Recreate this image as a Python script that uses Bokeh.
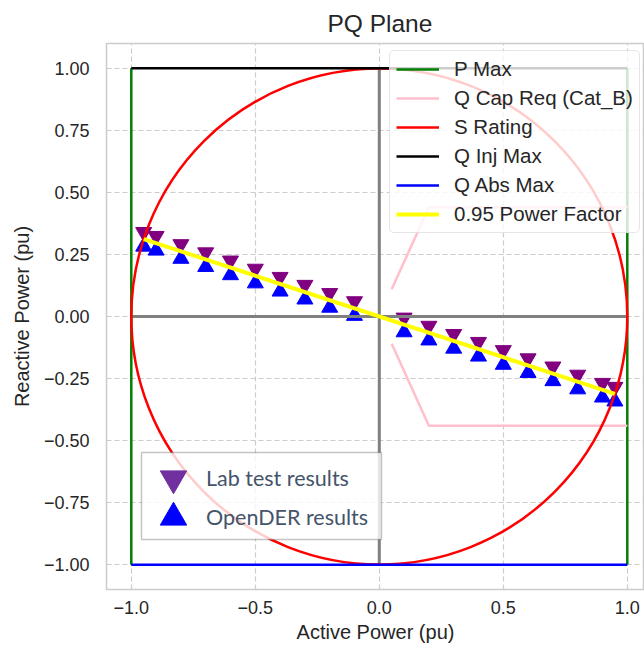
from bokeh.plotting import figure
from bokeh.models import Legend, LegendItem, FixedTicker, Range1d, BoxAnnotation
from bokeh.embed import file_html
from bokeh.resources import INLINE

# ---------------- data ----------------
p_test = [-0.95, -0.9, -0.8, -0.7, -0.6, -0.5, -0.4, -0.3, -0.2, -0.1,
          0.1, 0.2, 0.3, 0.4, 0.5, 0.6, 0.7, 0.8, 0.9, 0.95]
q_lab = [0.340, 0.324, 0.291, 0.258, 0.225, 0.192, 0.159, 0.127, 0.094, 0.061,
         -0.005, -0.038, -0.071, -0.103, -0.136, -0.169, -0.202, -0.235, -0.268, -0.284]
q_opender = [0.282, 0.266, 0.233, 0.200, 0.167, 0.134, 0.101, 0.069, 0.036, 0.003,
             -0.063, -0.096, -0.129, -0.161, -0.194, -0.227, -0.260, -0.293, -0.326, -0.342]
pf_p = [-0.95, 0.95]
pf_q = [0.312, -0.312]
p_max = 1.0
q_inj_max = 1.0
q_abs_max = -1.0
s_rating = 1.0
qcap_p = [0.05, 0.2, 1.0]
qcap_q_up = [0.11, 0.44, 0.44]
qcap_q_dn = [-0.11, -0.44, -0.44]
x_ticks = [-1.0, -0.5, 0.0, 0.5, 1.0]
x_tick_labels = ["\u22121.0", "\u22120.5", "0.0", "0.5", "1.0"]
y_ticks = [-1.0, -0.75, -0.5, -0.25, 0.0, 0.25, 0.5, 0.75, 1.0]
y_tick_labels = ["\u22121.00", "\u22120.75", "\u22120.50", "\u22120.25", "0.00",
                 "0.25", "0.50", "0.75", "1.00"]

FONT = "Liberation Sans"
TXT = "#262626"
NAN = float("nan")

p = figure(frame_width=538, frame_height=546,
           x_range=Range1d(-1.1, 1.0694), y_range=Range1d(-1.1, 1.1),
           output_backend="svg", toolbar_location=None,
           min_border_left=106, min_border_right=0, min_border_top=42,
           min_border_bottom=52)
p.background_fill_color = "white"
p.border_fill_color = "white"
p.outline_line_color = "#cccccc"
p.outline_line_width = 1.5

p.title.text = "PQ Plane"
p.title.align = "left"
p.title.text_font = FONT
p.title.text_font_size = "24.5px"
p.title.text_font_style = "normal"
p.title.text_color = TXT
p.title.offset = 221
p.title.standoff = 14

for ax in (p.xaxis[0], p.yaxis[0]):
    ax.axis_line_color = None
    ax.major_tick_line_color = None
    ax.minor_tick_line_color = None
    ax.major_tick_out = 0
    ax.major_tick_in = 0
    ax.major_label_text_font = FONT
    ax.major_label_text_font_size = "18px"
    ax.major_label_text_color = TXT
    ax.axis_label_text_font = FONT
    ax.axis_label_text_font_size = "20px"
    ax.axis_label_text_font_style = "normal"
    ax.axis_label_text_color = TXT

p.xaxis[0].ticker = FixedTicker(ticks=x_ticks)
p.xaxis[0].major_label_overrides = dict(zip(x_ticks, x_tick_labels))
p.yaxis[0].ticker = FixedTicker(ticks=y_ticks)
p.yaxis[0].major_label_overrides = dict(zip(y_ticks, y_tick_labels))
p.xaxis[0].axis_label = "Active Power (pu)"
p.yaxis[0].axis_label = "Reactive Power (pu)"
p.xaxis[0].major_label_standoff = 11
p.xaxis[0].axis_label_standoff = 4
p.yaxis[0].major_label_standoff = 17
p.yaxis[0].axis_label_standoff = 8

for g in (p.xgrid[0], p.ygrid[0]):
    g.grid_line_color = "#cccccc"
    g.grid_line_dash = "5 3"
    g.grid_line_width = 1.2

# markers (drawn below the lines)
r_od = p.scatter(p_test, q_opender, marker="triangle", size=16,
                 fill_color="#0000ff", line_color="#0000ff")
r_lab = p.scatter(p_test, q_lab, marker="inverted_triangle", size=16,
                  fill_color="#800080", line_color="#800080")

# zero axes
p.segment(x0=[0, -p_max], y0=[q_abs_max, 0], x1=[0, p_max], y1=[q_inj_max, 0],
          line_color="gray", line_width=3)

r_pmax = p.segment(x0=[-p_max, p_max], y0=[q_abs_max, q_abs_max],
                   x1=[-p_max, p_max], y1=[q_inj_max, q_inj_max],
                   line_color="green", line_width=2.5)
r_qcap = p.multi_line(xs=[qcap_p, qcap_p], ys=[qcap_q_up, qcap_q_dn],
                      line_color="pink", line_width=2.5)
p.circle(x=[0], y=[0], radius=s_rating, fill_color=None,
         line_color="red", line_width=2.5)
r_s = p.line(x=[NAN], y=[NAN], line_color="red", line_width=2.5)
r_qinj = p.line([-p_max, p_max], [q_inj_max, q_inj_max], line_color="black", line_width=2.5)
r_qabs = p.line([-p_max, p_max], [q_abs_max, q_abs_max], line_color="blue", line_width=2.5)
r_pf = p.line(pf_p, pf_q, line_color="yellow", line_width=4)

leg1 = Legend(items=[
    LegendItem(label="P Max", renderers=[r_pmax]),
    LegendItem(label="Q Cap Req (Cat_B)", renderers=[r_qcap]),
    LegendItem(label="S Rating", renderers=[r_s]),
    LegendItem(label="Q Inj Max", renderers=[r_qinj]),
    LegendItem(label="Q Abs Max", renderers=[r_qabs]),
    LegendItem(label="0.95 Power Factor", renderers=[r_pf]),
], location=(283, 356))
leg1.label_text_font = FONT
leg1.label_text_font_size = "20.5px"
leg1.label_text_color = TXT
leg1.glyph_width = 43
leg1.glyph_height = 20
leg1.label_standoff = 15
leg1.padding = 6
leg1.spacing = 5
leg1.border_line_color = "#cccccc"
leg1.border_line_width = 1.5
leg1.background_fill_alpha = 0.8
leg1.border_radius = 5
p.add_layout(leg1, "center")

# second legend: a frame box plus one single-row legend per entry
box2 = BoxAnnotation(left=35, right=275, bottom=50, top=137,
                     left_units="screen", right_units="screen",
                     bottom_units="screen", top_units="screen",
                     fill_color="white", fill_alpha=0.8,
                     line_color="#3b3b3b", line_width=1.5)
p.add_layout(box2)
d_lab = p.scatter(x=[NAN], y=[NAN], marker="inverted_triangle",
                  fill_color="#7030A0", line_color="#7030A0")
d_od = p.scatter(x=[NAN], y=[NAN], marker="triangle",
                 fill_color="#0000ff", line_color="#0000ff")
for label, rend, loc in (("Lab test results", d_lab, (34, 76)),
                         ("OpenDER results", d_od, (34, 37))):
    lg = Legend(items=[LegendItem(label=label, renderers=[rend])], location=loc)
    lg.label_text_font = "Lato"
    lg.label_text_font_size = "21.5px"
    lg.label_text_color = "#44546A"
    lg.glyph_width = 66
    lg.glyph_height = 70
    lg.label_height = 70
    lg.padding = 0
    lg.spacing = 0
    lg.label_standoff = 0
    lg.border_line_color = None
    lg.background_fill_alpha = 0
    p.add_layout(lg, "center")

open("out.html", "w").write(file_html(p, INLINE))
